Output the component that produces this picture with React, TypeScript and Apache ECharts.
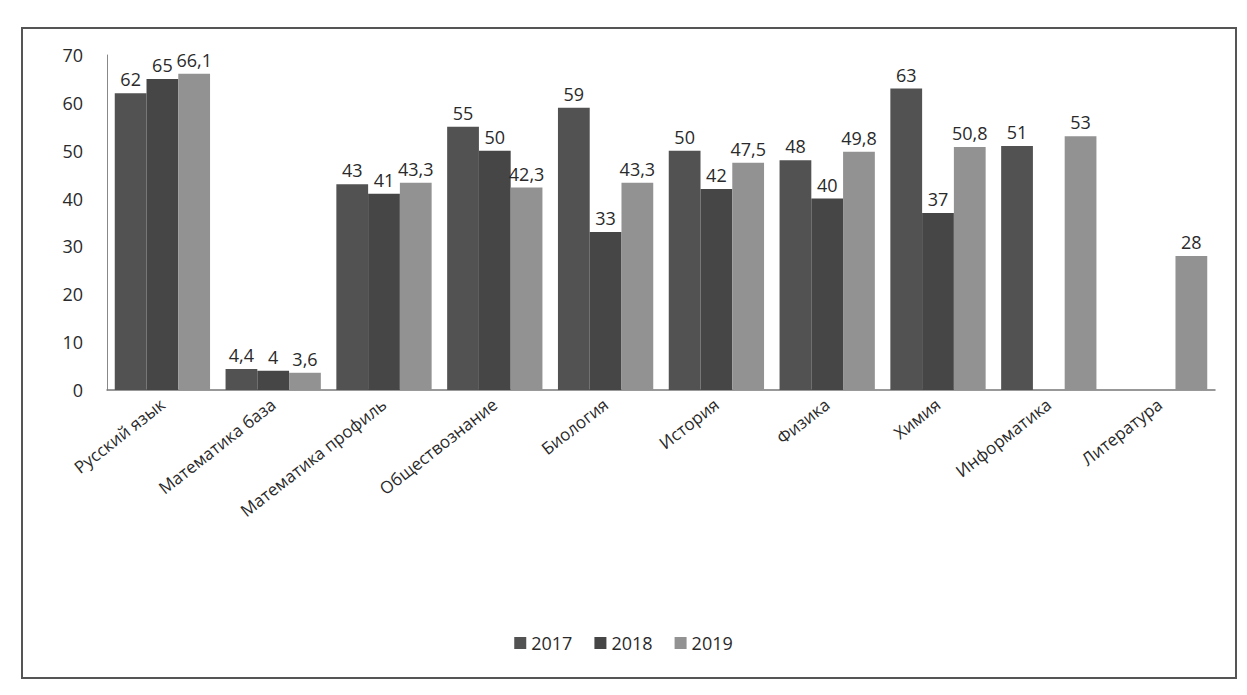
import React, { useEffect, useRef } from "react";
import * as echarts from "echarts";

const categories = [
  "Русский язык",
  "Математика база",
  "Математика профиль",
  "Обществознание",
  "Биология",
  "История",
  "Физика",
  "Химия",
  "Информатика",
  "Литература",
];
const years = ["2017", "2018", "2019"];
const values2017: (number | null)[] = [62, 4.4, 43, 55, 59, 50, 48, 63, 51, null];
const values2018: (number | null)[] = [65, 4, 41, 50, 33, 42, 40, 37, null, null];
const values2019: (number | null)[] = [66.1, 3.6, 43.3, 42.3, 43.3, 47.5, 49.8, 50.8, 53, 28];
const yTicks = { min: 0, max: 70, interval: 10 };

const colors = ["#525252", "#464646", "#929292"];
const FONT = "Open Sans";

export default function App() {
  const ref = useRef<HTMLDivElement>(null);
  useEffect(() => {
    if (!ref.current) return;
    const chart = echarts.init(ref.current, undefined, { renderer: "svg" });
    const seriesData = [values2017, values2018, values2019];
    chart.setOption({
      animation: false,
      backgroundColor: "#ffffff",
      textStyle: { fontFamily: FONT },
      graphic: [
        {
          type: "rect",
          shape: { x: 22, y: 28, width: 1214, height: 650 },
          style: { fill: "none", stroke: "#555555", lineWidth: 2 },
          silent: true,
        },
      ],
      legend: {
        data: years,
        bottom: 38,
        left: "center",
        itemWidth: 12,
        itemHeight: 12,
        itemGap: 22,
        icon: "rect",
        textStyle: { fontSize: 18, color: "#2a2a2a", fontFamily: FONT },
      },
      grid: { left: 107, right: 32, top: 55, bottom: 305, containLabel: false },
      xAxis: {
        type: "category",
        data: categories,
        axisLine: { lineStyle: { color: "#777", width: 1.5 } },
        axisTick: { show: false },
        axisLabel: {
          rotate: 38,
          interval: 0,
          fontSize: 17,
          color: "#2a2a2a",
          fontFamily: FONT,
          margin: 12,
        },
      },
      yAxis: {
        type: "value",
        min: yTicks.min,
        max: yTicks.max,
        interval: yTicks.interval,
        axisLine: { show: true, lineStyle: { color: "#888", width: 1 } },
        axisTick: { show: false },
        splitLine: { show: false },
        axisLabel: { fontSize: 18, color: "#2a2a2a", fontFamily: FONT, margin: 24 },
      },
      series: years.map((y, i) => ({
        name: y,
        type: "bar",
        data: seriesData[i],
        barGap: "0%",
        barCategoryGap: "14%",
        itemStyle: { color: colors[i] },
        label: {
          show: true,
          position: "top",
          fontSize: 18,
          color: "#2a2a2a",
          fontFamily: FONT,
          formatter: (p: any) => String(p.value).replace(".", ","),
        },
      })),
    });
    return () => chart.dispose();
  }, []);
  return (
    <div
      ref={ref}
      style={{ position: "absolute", left: 0, top: 0, width: 1247, height: 695 }}
    />
  );
}
